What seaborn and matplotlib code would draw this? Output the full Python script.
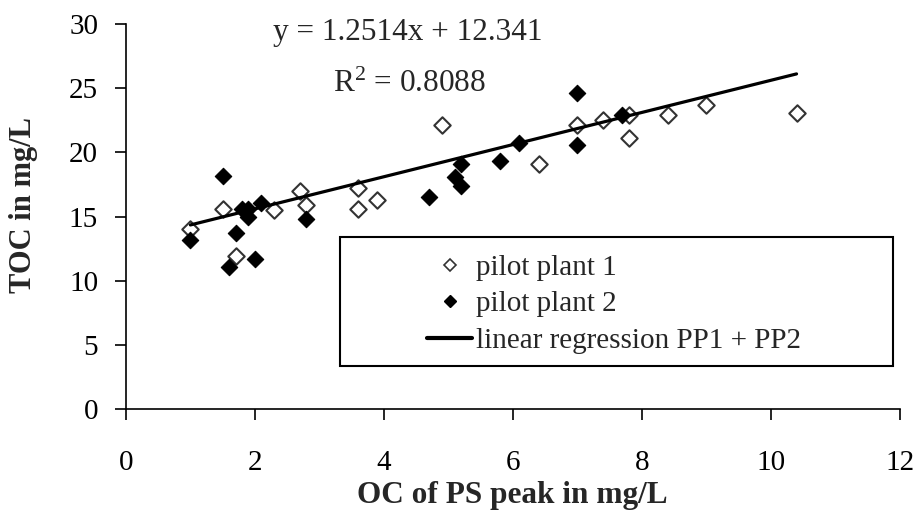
import numpy as np
import pandas as pd
import seaborn as sns
import matplotlib.pyplot as plt
from matplotlib.lines import Line2D
from matplotlib.patches import Rectangle

### Data
pp1_x = [1.0, 1.5, 1.7, 2.3, 2.7, 2.8, 3.6, 3.6, 3.9, 4.9, 6.4, 7.0, 7.4, 7.8, 7.8, 8.4, 9.0, 10.4]
pp1_y = [14.0, 15.6, 11.9, 15.5, 17.0, 15.9, 17.2, 15.6, 16.3, 22.1, 19.1, 22.1, 22.5, 22.9, 21.1, 22.9, 23.7, 23.1]
pp2_x = [1.0, 1.5, 1.6, 1.7, 1.8, 1.9, 1.9, 2.0, 2.1, 2.8, 4.7, 5.1, 5.2, 5.2, 5.8, 6.1, 7.0, 7.0, 7.7]
pp2_y = [13.2, 18.2, 11.1, 13.7, 15.6, 15.6, 15.0, 11.7, 16.1, 14.8, 16.5, 18.1, 19.1, 17.4, 19.3, 20.7, 24.6, 20.6, 22.9]

# trendline as drawn in the picture (label text kept as printed)
trend_slope = 1.2514
trend_intercept = 13.1
eq_label = "y = 1.2514x + 12.341"
r2_label = "R$^2$ = 0.8088"

x_ticks = [0, 2, 4, 6, 8, 10, 12]
y_ticks = [0, 5, 10, 15, 20, 25, 30]

pp1 = pd.DataFrame({"x": pp1_x, "y": pp1_y})
pp2 = pd.DataFrame({"x": pp2_x, "y": pp2_y})
all_x = np.array(pp1_x + pp2_x)
line_x = np.array([all_x.min(), all_x.max()])
trend = pd.DataFrame({"x": line_x, "y": trend_slope * line_x + trend_intercept})

### Style
sns.set_style("ticks")
plt.rcParams['font.family'] = ['Liberation Serif', 'DejaVu Serif']
plt.rcParams['mathtext.fontset'] = 'custom'
plt.rcParams['mathtext.rm'] = 'Liberation Serif'
plt.rcParams['mathtext.it'] = 'Liberation Serif:italic'

fs = 21

fig = plt.figure(figsize=(9.19, 5.22), dpi=100)
ax = fig.add_axes([0.137, 0.216, 0.842, 0.738])

sns.scatterplot(data=pp1, x="x", y="y", marker="D", s=70, facecolor="white",
                edgecolor="#333333", linewidth=1.5, ax=ax, zorder=3)
sns.scatterplot(data=pp2, x="x", y="y", marker="D", s=70, color="black",
                edgecolor="black", linewidth=0.8, ax=ax, zorder=4)
sns.lineplot(data=trend, x="x", y="y", color="black", linewidth=2.3, ax=ax, zorder=5)

ax.set_xlim(0, 12)
ax.set_ylim(0, 30)
ax.set_xticks(x_ticks)
ax.set_yticks(y_ticks)
ax.tick_params(axis="both", labelsize=fs, length=8, width=1.2, color="black", labelcolor="black")
ax.tick_params(axis="x", pad=21)
ax.tick_params(axis="y", pad=12)
for s in ["top", "right"]:
    ax.spines[s].set_visible(False)
for s in ["left", "bottom"]:
    ax.spines[s].set_linewidth(1.2)
    ax.spines[s].set_color("black")

ax.set_xlabel("OC of PS peak in mg/L", fontsize=22.5, fontweight="bold", labelpad=4)
ax.set_ylabel("TOC in mg/L", fontsize=22, fontweight="bold")
ax.yaxis.set_label_coords(-0.113, 0.53)

ax.text(0.364, 0.977, eq_label, transform=ax.transAxes, ha="center", va="center", fontsize=22.5)
ax.text(0.367, 0.842, r2_label, transform=ax.transAxes, ha="center", va="center", fontsize=22.5)

# legend with a square frame
ax.add_patch(Rectangle((0.2765, 0.112), 0.7145, 0.335, transform=ax.transAxes,
                       fill=False, edgecolor="black", linewidth=1.5, zorder=6))
handles = [
    Line2D([], [], marker="D", linestyle="none", markersize=6.5, markerfacecolor="white",
           markeredgecolor="#333333", markeredgewidth=1.2),
    Line2D([], [], marker="D", linestyle="none", markersize=6.5, color="black"),
    Line2D([], [], color="black", linewidth=3),
]
labels = ["pilot plant 1", "pilot plant 2", "linear regression PP1 + PP2"]
ax.legend(handles, labels, loc="upper left", bbox_to_anchor=(0.389, 0.402), frameon=False,
          fontsize=fs, borderpad=0, borderaxespad=0, handlelength=1.55, handletextpad=0.15,
          labelspacing=0.35)

fig.savefig("out.png", dpi=100)
